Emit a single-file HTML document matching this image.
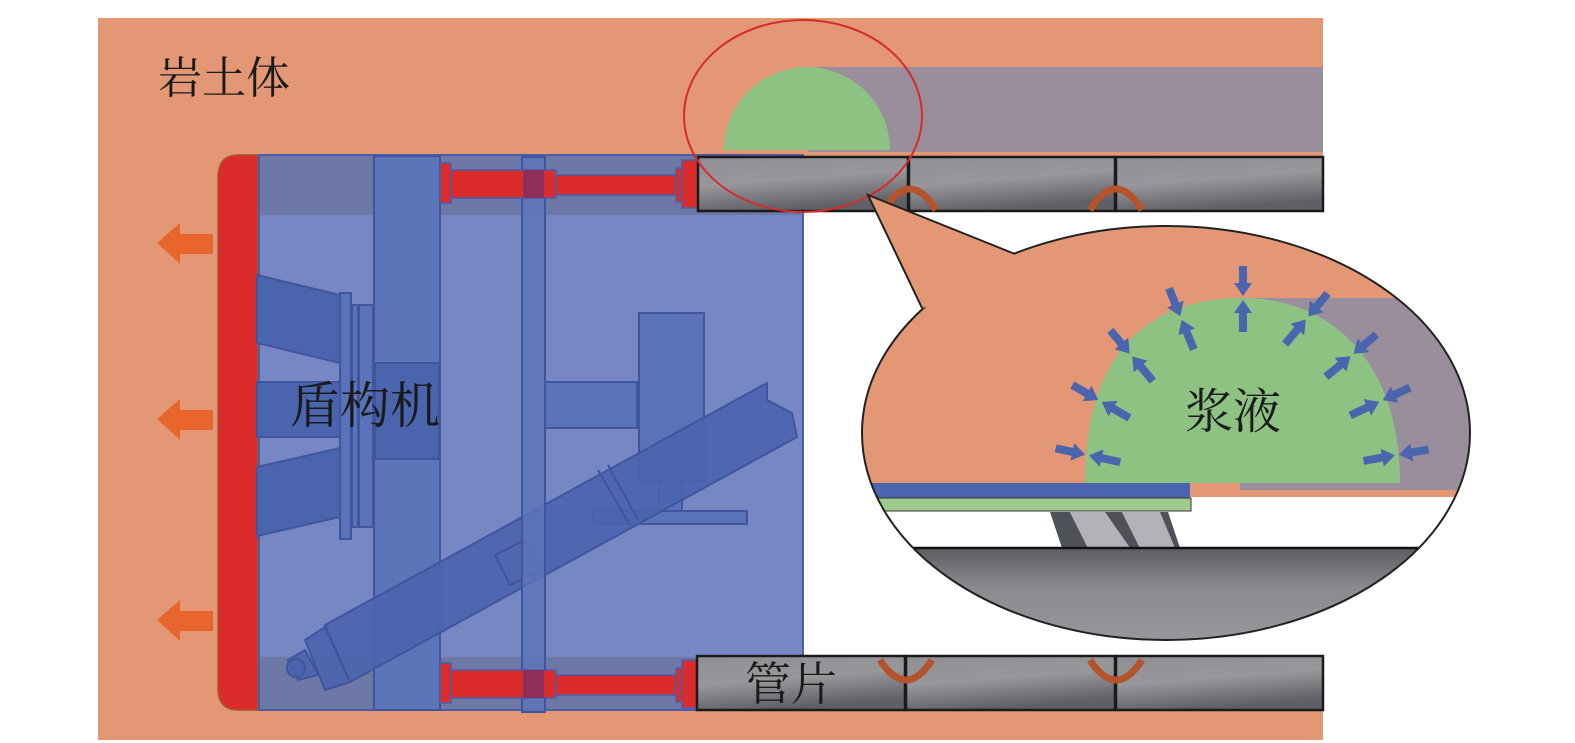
<!DOCTYPE html>
<html><head><meta charset="utf-8"><style>
html,body{margin:0;padding:0;background:#fff;overflow:hidden;width:1575px;height:743px;}
svg{display:block;}
text{font-family:"Liberation Serif","Noto Serif CJK SC","Noto Sans CJK SC",serif;fill:#1a1a1a;}
</style></head><body>
<svg width="1575" height="743" viewBox="0 0 1575 743" xmlns="http://www.w3.org/2000/svg">
<defs>
<linearGradient id="seg" x1="0" y1="0" x2="0.3" y2="1">
<stop offset="0" stop-color="#8f8f94"/><stop offset="0.5" stop-color="#98979b"/><stop offset="1" stop-color="#5f6066"/>
</linearGradient>
<linearGradient id="seg2" x1="0" y1="0" x2="0" y2="1">
<stop offset="0" stop-color="#5c5d63"/><stop offset="0.4" stop-color="#8a8a8f"/><stop offset="1" stop-color="#9a999d"/>
</linearGradient>
<clipPath id="cc"><ellipse cx="1166" cy="433" rx="304" ry="207"/></clipPath>
<g id="pa"><polygon points="0,-2 -9,-15 -4,-15 -4,-32 4,-32 4,-15 9,-15"/><polygon points="0,2 -9,15 -4,15 -4,34 4,34 4,15 9,15"/></g>
</defs>
<rect x="98" y="18" width="1225" height="722" fill="#e39775"/>
<rect x="803" y="212" width="520" height="444" fill="#fff"/>
<rect x="808" y="67" width="515" height="85" fill="#9a8e9c"/>
<path d="M724 150 A83 83 0 0 1 890 150 Z" fill="#8ec283"/>
<!-- cutterhead -->
<path d="M258 155 L238 155 Q218 155 218 178 L218 688 Q218 710 238 710 L258 710 Z" fill="#dc2b2b" stroke="#a8562a" stroke-width="1.5"/>
<!-- shield -->
<rect x="259" y="155" width="544" height="555" fill="#7787c4" stroke="#4a5da8" stroke-width="2"/>
<rect x="260" y="156" width="542" height="59" fill="#6e78a6"/>
<rect x="260" y="657" width="542" height="52" fill="#6e78a6"/>
<g fill="#4a64ae" stroke="#3f569e" stroke-width="2">
<polygon points="257,275 340,295 340,363 257,343"/>
<rect x="257" y="382" width="83" height="55"/>
<polygon points="257,467 340,448 340,517 257,536"/>
</g>
<g fill="#5a72b8" stroke="#3f569e" stroke-width="2">
<rect x="340" y="293" width="11" height="246"/>
<rect x="352" y="305" width="6" height="222"/>
<rect x="359" y="305" width="14" height="222"/>
<rect x="374" y="156" width="66" height="554" fill="#5c74b8"/>
<rect x="375" y="363" width="64" height="96" fill="#4a64ae"/>
<rect x="639" y="313" width="65" height="168"/>
<rect x="545" y="382" width="92" height="46"/>
<rect x="659" y="481" width="23" height="30"/>
<rect x="593" y="511" width="154" height="13"/>
</g>
<!-- conveyor -->
<g fill="#4a64ae" fill-opacity="0.9" stroke="#3f569e" stroke-width="2">
<polygon points="325,625 767,383 767,400 792,413 797,437 350,682"/>
<polygon points="305,640 325,627 350,682 325,690"/>
<polygon points="288,660 305,650 318,675 298,680"/>
<circle cx="296" cy="668" r="9"/>
<polygon points="495,555 525,540 540,570 510,585" fill="none"/>
<line x1="598" y1="470" x2="630" y2="525"/>
<line x1="608" y1="465" x2="638" y2="520"/>
</g>
<rect x="522" y="157" width="23" height="555" fill="#5c74b8" fill-opacity="0.85" stroke="#3f569e" stroke-width="2"/>
<!-- jacks -->
<g stroke="#4a5da8" stroke-width="1.5" fill="#dc2b2b">
<rect x="440" y="163" width="11" height="40"/>
<rect x="451" y="170" width="105" height="28"/>
<rect x="556" y="175" width="120" height="20"/>
<rect x="676" y="168" width="6" height="34"/>
<rect x="682" y="160" width="16" height="48"/>
<rect x="440" y="663" width="11" height="40"/>
<rect x="451" y="670" width="105" height="28"/>
<rect x="556" y="675" width="120" height="20"/>
<rect x="676" y="668" width="6" height="34"/>
<rect x="682" y="660" width="16" height="48"/>
</g>
<rect x="523" y="170" width="21" height="28" fill="#8d2f5a"/>
<rect x="523" y="670" width="21" height="28" fill="#8d2f5a"/>
<!-- segments (on top of shield) -->
<g stroke="#1a1a1a" stroke-width="2.5" fill="url(#seg)">
<rect x="698" y="157" width="210" height="54"/>
<rect x="909" y="157" width="206" height="54"/>
<rect x="1116" y="157" width="207" height="54"/>
<rect x="697" y="656" width="208" height="54"/>
<rect x="906" y="656" width="209" height="54"/>
<rect x="1116" y="656" width="207" height="54"/>
</g>
<g fill="none" stroke="#b5532a" stroke-width="7">
<path d="M884 210 Q910 168 936 210"/>
<path d="M1090 210 Q1116 168 1142 210"/>
<path d="M880 660 Q906 700 932 660"/>
<path d="M1090 660 Q1116 700 1142 660"/>
</g>
<!-- arrows -->
<g fill="#e8652e">
<polygon points="157,243 180,223 180,234 213,234 213,254 180,254 180,264"/>
<polygon points="157,419 180,399 180,410 213,410 213,430 180,430 180,440"/>
<polygon points="157,620 180,600 180,611 213,611 213,631 180,631 180,641"/>
</g>
<ellipse cx="803" cy="116" rx="119" ry="96" fill="none" stroke="#d62b2b" stroke-width="2"/>
<!-- callout -->
<g clip-path="url(#cc)">
<rect x="860" y="220" width="615" height="425" fill="#e39775"/>
<rect x="860" y="497" width="615" height="150" fill="#fff"/>
<rect x="1240" y="298" width="235" height="192" fill="#9a8e9c"/>
<rect x="860" y="483" width="330" height="15" fill="#4a64ae"/>
<rect x="860" y="498" width="331" height="13" fill="#9dcb8e" stroke="#333" stroke-width="1"/>
<polygon points="1050,512 1070,512 1088,548 1062,548" fill="#4e5258"/>
<polygon points="1070,512 1105,512 1130,548 1088,548" fill="#b3b2b8"/>
<polygon points="1105,512 1122,512 1140,548 1130,548" fill="#4e5258"/>
<polygon points="1122,512 1160,512 1180,548 1140,548" fill="#b3b2b8"/>
<polygon points="1160,512 1168,512 1180,548 1175,548" fill="#4e5258"/>
<rect x="860" y="548" width="615" height="100" fill="url(#seg2)"/>
<line x1="860" y1="548" x2="1420" y2="548" stroke="#111" stroke-width="2.5"/>
</g>
<path d="M1085 483 C1085 340 1160 298 1243 298 C1330 298 1400 360 1400 483 Z" fill="#8ec283"/>
<ellipse cx="1166" cy="433" rx="304" ry="207" fill="none" stroke="#222" stroke-width="2"/>
<polygon points="922,308 868,195 1015,254 1000,290" fill="#e39775"/>
<polyline points="922,308 868,195 1015,254" fill="none" stroke="#222" stroke-width="2"/>
<g fill="#4a64ae">
<use href="#pa" transform="translate(1243,298)"/>
<use href="#pa" transform="translate(1181,318) rotate(-22)"/>
<use href="#pa" transform="translate(1131,355) rotate(-40)"/>
<use href="#pa" transform="translate(1100,401) rotate(-60)"/>
<use href="#pa" transform="translate(1087,455) rotate(-78)"/>
<use href="#pa" transform="translate(1307,318) rotate(40)"/>
<use href="#pa" transform="translate(1352,355) rotate(50)"/>
<use href="#pa" transform="translate(1381,401) rotate(65)"/>
<use href="#pa" transform="translate(1397,455) rotate(80)"/>
</g>
<text x="158" y="93" font-size="44">岩土体</text>
<text x="290" y="423" font-size="50">盾构机</text>
<text x="745" y="700" font-size="46">管片</text>
<text x="1185" y="428" font-size="48">浆液</text>
</svg>
</body></html>
